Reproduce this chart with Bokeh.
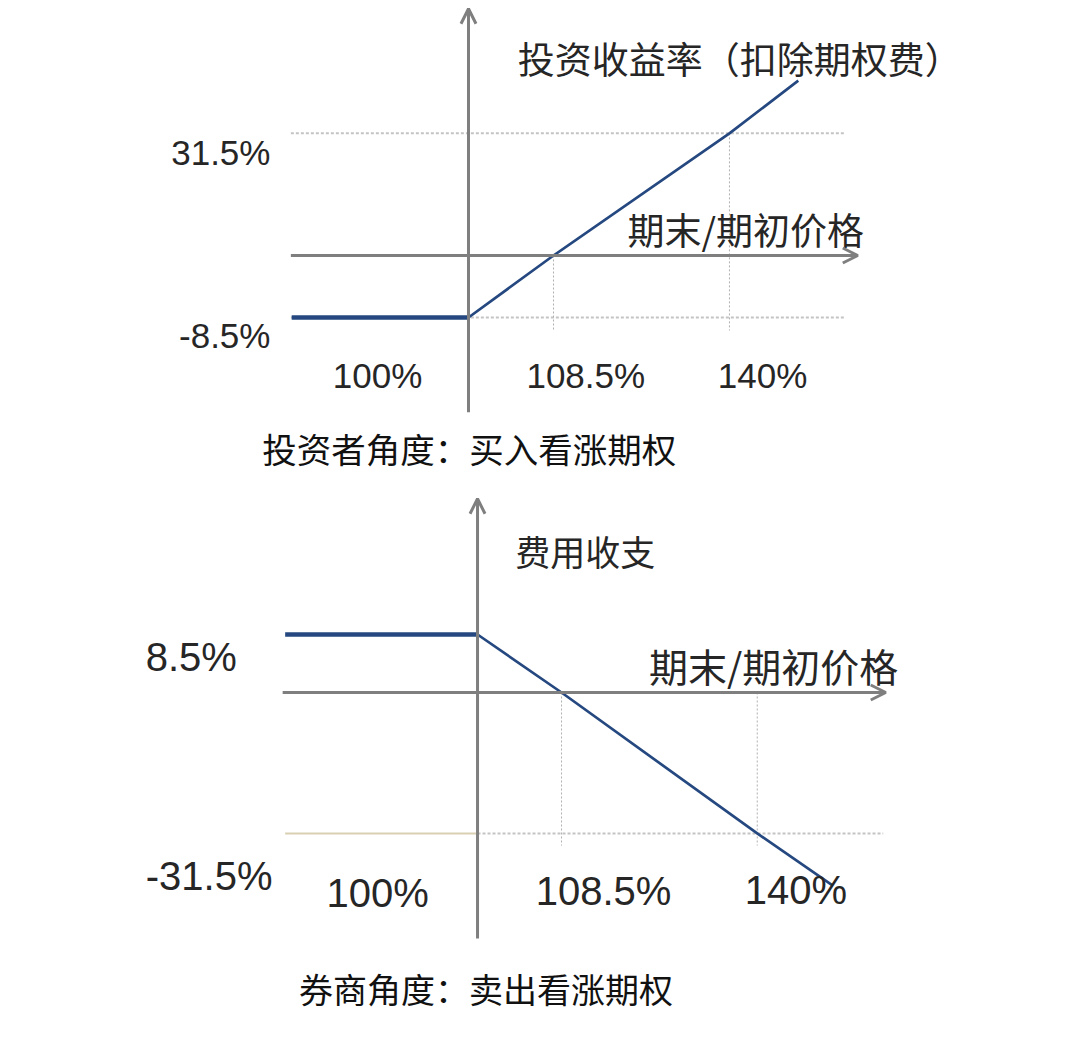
from bokeh.plotting import figure
from bokeh.models import Range1d, Arrow, OpenHead
from bokeh.layouts import column
from bokeh.core.properties import value
from bokeh.embed import file_html
from bokeh.resources import INLINE

# ---------------- data (schematic units: x unit = distance to break-even, y unit = option fee 8.5%) ----
# Buyer (investor) payoff: flat at -8.5% up to 100%, break-even 108.5%, 31.5% at 140%
buyer_x = [-2.08, 0.0, 1.0, 3.07, 3.88]
buyer_y = [-1.0, -1.0, 0.0, 1.97, 2.82]
buyer_price_labels = ["100%", "108.5%", "140%"]
buyer_return_labels = ["31.5%", "-8.5%"]
buyer_title = "投资收益率（扣除期权费）"
buyer_caption = "投资者角度：买入看涨期权"

# Seller (broker) payoff: flat at +8.5% up to 100%, break-even 108.5%, -31.5% at 140%
seller_x = [-2.29, 0.0, 1.0, 3.33, 4.23]
seller_y = [1.0, 1.0, 0.0, -2.43, -3.33]
seller_price_labels = ["100%", "108.5%", "140%"]
seller_return_labels = ["8.5%", "-31.5%"]
seller_title = "费用收支"
seller_caption = "券商角度：卖出看涨期权"

x_axis_name = "期末/期初价格"

# ---------------- styles ----------------
AXIS = "#7f7f7f"
GRID = "#c4c4c4"
LINE = "#24487f"
TXT = "#262626"
NUM_FONT = value("Liberation Sans")
CJK_FONT = value("Noto Sans CJK SC")
W = 1064


def base_fig(h, xr, yr):
    p = figure(width=W, height=h, output_backend="svg", toolbar_location=None,
               x_range=Range1d(*xr), y_range=Range1d(*yr), min_border=0)
    p.axis.visible = False
    p.xgrid.visible = False
    p.ygrid.visible = False
    p.outline_line_color = None
    p.background_fill_color = "white"
    p.border_fill_color = "white"
    return p


def axis_arrow(p, xs, ys, xe, ye):
    p.add_layout(Arrow(end=OpenHead(size=15, line_color=AXIS, line_width=3),
                       x_start=xs, y_start=ys, x_end=xe, y_end=ye,
                       line_color=AXIS, line_width=3))


# ================= top: investor =================
p1 = base_fig(480, (-5.506, 7.012), (-3.629, 4.113))
# grid (dotted)
p1.line([-2.09, 4.44], [buyer_y[3], buyer_y[3]], line_color=GRID, line_width=2, line_dash="3 2")
p1.line([-2.09, 4.44], [buyer_y[0], buyer_y[0]], line_color=GRID, line_width=2, line_dash="3 2")
p1.line([buyer_x[2], buyer_x[2]], [buyer_y[2], -1.21], line_color="#b0b0b0", line_width=1, line_dash="2 2")
p1.line([buyer_x[3], buyer_x[3]], [buyer_y[3], -1.21], line_color="#b0b0b0", line_width=1, line_dash="2 2")
# axes
axis_arrow(p1, 0, -2.53, 0, 3.98)
axis_arrow(p1, -2.09, 0, 4.58, 0)
# payoff
p1.line(buyer_x[:2], buyer_y[:2], line_color=LINE, line_width=4.5)
p1.line(buyer_x[1:], buyer_y[1:], line_color=LINE, line_width=2.7)
# labels
p1.text(x=[-2.33, -2.33], y=[1.66, -1.29], text=buyer_return_labels, text_align="right",
        text_baseline="middle", text_font=NUM_FONT, text_font_size="35px", text_color=TXT)
p1.text(x=[-1.07, 1.38, 3.46], y=[-1.93, -1.93, -1.93], text=buyer_price_labels, text_align="center",
        text_baseline="middle", text_font=NUM_FONT, text_font_size="35px", text_color=TXT)
p1.text(x=[0.58], y=[3.19], text=[buyer_title], text_align="left", text_baseline="middle",
        text_font=CJK_FONT, text_font_size="37px", text_color=TXT)
p1.text(x=[1.87], y=[0.435], text=[x_axis_name], text_align="left", text_baseline="middle",
        text_font=CJK_FONT, text_font_size="37px", text_color=TXT)
p1.text(x=[0.01], y=[-3.10], text=[buyer_caption], text_align="center", text_baseline="middle",
        text_font=CJK_FONT, text_font_size="34.5px", text_color="#111111")

# ================= bottom: broker =================
p2 = base_fig(560, (-5.679, 6.988), (-6.0, 3.655))
# grid
p2.line([seller_x[0], 0], [seller_y[3], seller_y[3]], line_color="#d9d0b2", line_width=2)
p2.line([0, 4.83], [seller_y[3], seller_y[3]], line_color=GRID, line_width=2, line_dash="3 2")
p2.line([seller_x[2], seller_x[2]], [0, -2.64], line_color="#b0b0b0", line_width=1, line_dash="2 2")
p2.line([seller_x[3], seller_x[3]], [0, -2.64], line_color="#b0b0b0", line_width=1, line_dash="2 2")
# axes
axis_arrow(p2, 0, -4.24, 0, 3.34)
axis_arrow(p2, -2.32, 0, 4.86, 0)
# payoff
p2.line(seller_x[:2], seller_y[:2], line_color=LINE, line_width=4.5)
p2.line(seller_x[1:], seller_y[1:], line_color=LINE, line_width=2.7)
# labels
p2.text(x=[-3.95, -3.95], y=[0.62, -3.17], text=seller_return_labels, text_align="left",
        text_baseline="middle", text_font=NUM_FONT, text_font_size="40px", text_color=TXT)
p2.text(x=[-1.19, 1.50, 3.79], y=[-3.45, -3.43, -3.41], text=seller_price_labels, text_align="center",
        text_baseline="middle", text_font=NUM_FONT, text_font_size="40px", text_color=TXT)
p2.text(x=[0.45], y=[2.45], text=[seller_title], text_align="left", text_baseline="middle",
        text_font=CJK_FONT, text_font_size="35px", text_color=TXT)
p2.text(x=[2.04], y=[0.47], text=[x_axis_name], text_align="left", text_baseline="middle",
        text_font=CJK_FONT, text_font_size="39px", text_color=TXT)
p2.text(x=[0.10], y=[-5.10], text=[seller_caption], text_align="center", text_baseline="middle",
        text_font=CJK_FONT, text_font_size="34px", text_color="#111111")

layout = column(p1, p2, spacing=0)
open("out.html", "w").write(file_html(layout, INLINE))
